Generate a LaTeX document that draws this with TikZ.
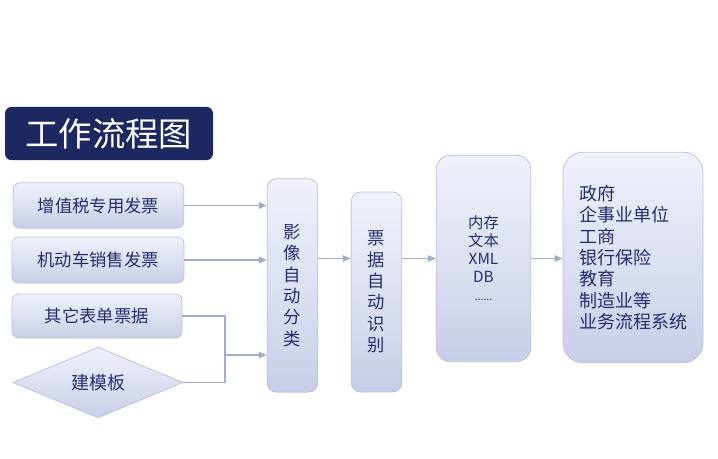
\documentclass[tikz,border=0pt]{standalone}
\usepackage{fontspec}
\setmainfont{Noto Sans CJK SC}
\usepackage{tikz}
\usetikzlibrary{positioning,calc,arrows.meta,shapes.geometric}
\definecolor{titlebg}{RGB}{30,40,96}
\definecolor{flowtext}{RGB}{36,46,110}
\definecolor{boxtop}{RGB}{240,242,250}
\definecolor{boxbot}{RGB}{200,206,232}
\definecolor{boxline}{RGB}{188,194,220}
\definecolor{linkclr}{RGB}{160,172,202}

\tikzset{
  srcbox/.style={rounded corners=5pt, draw=boxline, line width=0.6pt,
                 top color=boxtop, bottom color=boxbot, text=flowtext,
                 inner sep=0pt, align=center, font=\fontsize{13}{15}\selectfont},
  colbox/.style={srcbox, rounded corners=7pt, font=\fontsize{13}{16}\selectfont},
  link/.style={draw=linkclr, line width=0.8pt},
  flow/.style={link, -{Triangle[length=6pt,width=5pt]}}
}

\begin{document}
\begin{tikzpicture}[x=0.75pt, y=-0.75pt]
  \useasboundingbox[fill=white] (0,0) rectangle (718,458);
  \node[fill=titlebg, rounded corners=5pt, minimum width=156pt, minimum height=40pt,
        inner sep=0pt, text=white, font=\fontsize{25}{28}\selectfont] (title)
    at (109,133.5) {工作流程图};
  \node[srcbox, minimum width=128pt, minimum height=34pt] (vat)  at (98.5,205.5) {增值税专用发票};
  \node[srcbox, minimum width=129pt, minimum height=34.5pt] (car) at (98,260) {机动车销售发票};
  \node[srcbox, minimum width=127.5pt, minimum height=33pt] (other) at (97,316) {其它表单票据};
  \node[diamond, draw=boxline, line width=0.6pt, top color=boxtop, bottom color=boxbot,
        text=flowtext, inner sep=0pt, minimum width=127.5pt, minimum height=53pt,
        font=\fontsize{13.5}{15}\selectfont] (tpl) at (98,382.5) {建模板};
  \node[colbox, minimum width=38pt, minimum height=160pt] (img) at (292.5,285.5)
    {影\\像\\自\\动\\分\\类};
  \node[colbox, minimum width=38pt, minimum height=150pt] (ocr) at (376.5,292)
    {票\\据\\自\\动\\识\\别};
  \node[colbox, rounded corners=11pt, minimum width=71pt, minimum height=155pt,
        font=\fontsize{11.5}{13.5}\selectfont] (mem) at (483.5,258.5)
    {内存\\文本\\XML\\DB\\{\fontsize{8}{9}\selectfont ......}};
  \node[colbox, rounded corners=15pt, align=left, minimum width=105pt, minimum height=158pt,
        font=\fontsize{13.5}{16}\selectfont] (dest) at (633,257.5)
    {政府\\企事业单位\\工商\\银行保险\\教育\\制造业等\\业务流程系统};
  \coordinate (join) at (225,355);
  \draw[flow] (vat.east) -- (vat.east -| img.west);
  \draw[flow] (car.east) -- (car.east -| img.west);
  \draw[link] (other.east) -| (join) |- (tpl.east);
  \draw[flow] (join) -- (join -| img.west);
  \draw[flow] (img.east |- mem.west) -- (ocr.west |- mem.west);
  \draw[flow] (ocr.east |- mem.west) -- (mem.west);
  \draw[flow] (mem.east) -- (mem.east -| dest.west);
\end{tikzpicture}
\end{document}
